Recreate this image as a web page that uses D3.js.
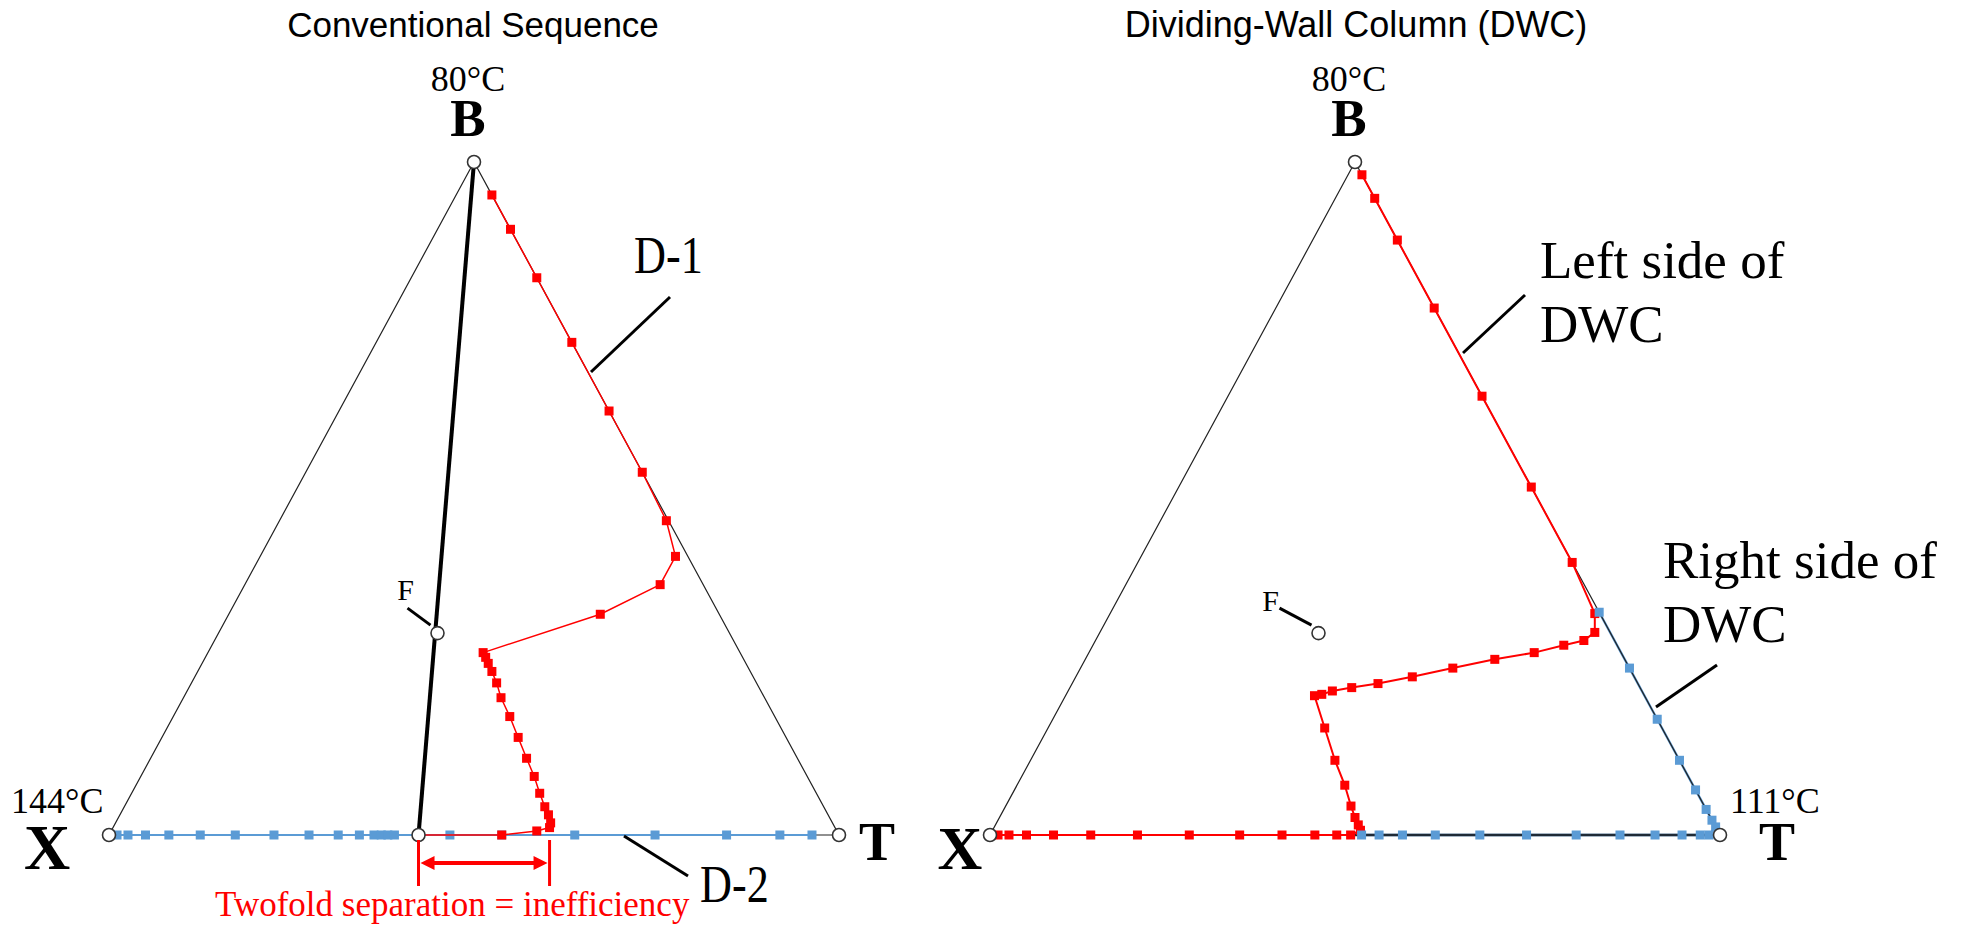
<!DOCTYPE html>
<html>
<head>
<meta charset="utf-8">
<script src="https://cdn.jsdelivr.net/npm/d3@7"></script>
<style>
  html, body { margin: 0; padding: 0; background: #fff; }
  svg { display: block; }
</style>
</head>
<body>
<svg id="chart" width="1973" height="928"></svg>
<script>
// Every composition is a [B, T] mole-fraction pair; X = 1 - B - T.
const boilingPoints = { B: "80°C", X: "144°C", T: "111°C" };
const feed = [0.30, 0.30];
const d1Bottoms = [0.000, 0.424];

// Column D-1 liquid profile, bottoms → top
const d1Profile = [
  [0.000, 0.424], [0.000, 0.538], [0.006, 0.583], [0.011, 0.598], [0.018, 0.596],
  [0.030, 0.587], [0.042, 0.576], [0.062, 0.559], [0.087, 0.539], [0.114, 0.515],
  [0.145, 0.488], [0.176, 0.461], [0.204, 0.435], [0.226, 0.418], [0.243, 0.403],
  [0.255, 0.392], [0.264, 0.384], [0.271, 0.377], [0.328, 0.509], [0.372, 0.569],
  [0.414, 0.569], [0.467, 0.530], [0.539, 0.461], [0.630, 0.370], [0.732, 0.268],
  [0.828, 0.172], [0.900, 0.100], [0.951, 0.049]
];

// Column D-2 profile on the T–X edge
const d2Profile = [
  [0, 0.011], [0, 0.026], [0, 0.050], [0, 0.082], [0, 0.125], [0, 0.173], [0, 0.226],
  [0, 0.274], [0, 0.314], [0, 0.343], [0, 0.363], [0, 0.373], [0, 0.382], [0, 0.391],
  [0, 0.467], [0, 0.538], [0, 0.638], [0, 0.748], [0, 0.846], [0, 0.919], [0, 0.963]
];

// DWC, left side of the wall down through the bottom section, top → bottoms
const dwcLeft = [
  [0.981, 0.019], [0.946, 0.054], [0.884, 0.116], [0.783, 0.217], [0.652, 0.348],
  [0.517, 0.483], [0.405, 0.595], [0.329, 0.664], [0.301, 0.678], [0.289, 0.669],
  [0.282, 0.645], [0.271, 0.610], [0.261, 0.561], [0.248, 0.510], [0.235, 0.461],
  [0.225, 0.419], [0.219, 0.386], [0.214, 0.362], [0.209, 0.350], [0.207, 0.341],
  [0.159, 0.379], [0.111, 0.417], [0.074, 0.449], [0.043, 0.473], [0.026, 0.487],
  [0.015, 0.497], [0.007, 0.504], [0.000, 0.494], [0.000, 0.475], [0.000, 0.445],
  [0.000, 0.400], [0.000, 0.342], [0.000, 0.273], [0.000, 0.202], [0.000, 0.138],
  [0.000, 0.087], [0.000, 0.050], [0.000, 0.026], [0.000, 0.011]
];

// DWC, right side of the wall, wall top → T corner → along the T–X edge
const dwcRight = [
  [0.331, 0.669], [0.248, 0.752], [0.172, 0.828], [0.111, 0.889], [0.067, 0.933],
  [0.038, 0.962], [0.022, 0.978], [0.012, 0.988], [0.000, 0.985], [0.000, 0.973],
  [0.000, 0.948], [0.000, 0.911], [0.000, 0.863], [0.000, 0.803], [0.000, 0.735],
  [0.000, 0.671], [0.000, 0.610], [0.000, 0.565], [0.000, 0.533], [0.000, 0.509]
];
const dwcBottomSegment = [[0.000, 0.500], [0.000, 1.000]];

const twofoldSpan = [d1Bottoms, [0.011, 0.598]];

const RED = "#ff0000";
const BLUE = "#5b9bd5";
const SERIF = "'Liberation Serif', 'Times New Roman', Times, serif";
const SANS = "'Liberation Sans', Arial, Helvetica, sans-serif";
const MARK = 9;

const svg = d3.select("#chart");

function makePanel(x0) {
  const sx = d3.scaleLinear().domain([0, 1]).range([x0, x0 + 730]);
  const sy = d3.scaleLinear().domain([0, 1]).range([835, 162]);
  const proj = d => [sx(d[1] + d[0] / 2), sy(d[0])];
  return { sx, sy, proj, B: proj([1, 0]), X: proj([0, 0]), T: proj([0, 1]) };
}

const line = d3.line();

function triangle(g, p) {
  g.append("path")
    .attr("d", line([p.B, p.X, p.T]) + "Z")
    .attr("fill", "none").attr("stroke", "#222").attr("stroke-width", 1.2);
}

function seriesLine(g, p, data, color, width) {
  g.append("path")
    .attr("d", line(data.map(p.proj)))
    .attr("fill", "none").attr("stroke", color)
    .attr("stroke-width", width).attr("stroke-linejoin", "round");
}

function seriesMarks(g, p, data, color) {
  g.append("g").selectAll("rect").data(data).join("rect")
    .attr("x", d => p.proj(d)[0] - MARK / 2).attr("y", d => p.proj(d)[1] - MARK / 2)
    .attr("width", MARK).attr("height", MARK).attr("fill", color);
}

function node(g, pt) {
  g.append("circle").attr("cx", pt[0]).attr("cy", pt[1]).attr("r", 6.5)
    .attr("fill", "#fff").attr("stroke", "#333").attr("stroke-width", 1.6);
}

// text with optional horizontal squeeze (sx)
function text(g, str, x, y, opts) {
  const t = g.append("text")
    .attr("font-family", opts.family || SERIF)
    .attr("font-size", opts.size)
    .attr("font-weight", opts.weight || "normal")
    .attr("text-anchor", opts.anchor || "start")
    .attr("fill", opts.fill || "#000")
    .text(str);
  if (opts.sx) t.attr("transform", `translate(${x},${y}) scale(${opts.sx},1)`);
  else t.attr("x", x).attr("y", y);
  return t;
}

function leader(g, a, b) {
  g.append("line").attr("x1", a[0]).attr("y1", a[1]).attr("x2", b[0]).attr("y2", b[1])
    .attr("stroke", "#000").attr("stroke-width", 3);
}

function vertexLabels(g, p, cfg) {
  text(g, boilingPoints.B, p.B[0] - 6, 91, { size: 36, anchor: "middle" });
  text(g, "B", p.B[0] - 6, 136, { size: 53, weight: "bold", anchor: "middle" });
  text(g, "X", p.X[0] + cfg.xOff, 869, { size: cfg.xSize, weight: "bold", anchor: "middle" });
  text(g, "T", p.T[0] + cfg.tOff, 860, { size: 54, weight: "bold", anchor: "middle" });
}

function feedLabel(g, p, cfg) {
  const f = p.proj(feed);
  leader(g, [f[0] + cfg.lead[0], f[1] + cfg.lead[1]], [f[0] - 7, f[1] - 8]);
  text(g, "F", f[0] + cfg.label[0], f[1] + cfg.label[1], { size: 30, anchor: "middle" });
}

// ---------- Conventional sequence ----------
const L = makePanel(109);
const gL = svg.append("g");
text(gL, "Conventional Sequence", 473, 37, { family: SANS, size: 35, anchor: "middle" });
triangle(gL, L);
gL.append("path").attr("d", line([L.B, L.proj(d1Bottoms)]))
  .attr("stroke", "#000").attr("stroke-width", 4).attr("fill", "none");
seriesLine(gL, L, d2Profile, BLUE, 2);
seriesMarks(gL, L, d2Profile, BLUE);
seriesLine(gL, L, d1Profile, RED, 1.5);
seriesMarks(gL, L, d1Profile, RED);
[L.B, L.X, L.T, L.proj(feed), L.proj(d1Bottoms)].forEach(pt => node(gL, pt));
vertexLabels(gL, L, { xOff: -62, tOff: 38, xSize: 64 });
text(gL, boilingPoints.X, L.X[0] - 98, 813, { size: 36 });
feedLabel(gL, L, { lead: [-30, -25], label: [-32, -33] });

text(gL, "D-1", 634, 273, { size: 52, sx: 0.85 });
leader(gL, [670, 297], [591, 372]);
text(gL, "D-2", 700, 902, { size: 52, sx: 0.85 });
leader(gL, [624, 836], [688, 876]);

// twofold-separation bracket
const bx0 = L.proj(twofoldSpan[0])[0], bx1 = L.proj(twofoldSpan[1])[0];
[bx0, bx1].forEach(x => gL.append("line")
  .attr("x1", x).attr("x2", x).attr("y1", 840).attr("y2", 886)
  .attr("stroke", RED).attr("stroke-width", 3));
gL.append("line").attr("x1", bx0 + 12).attr("x2", bx1 - 12).attr("y1", 863).attr("y2", 863)
  .attr("stroke", RED).attr("stroke-width", 4);
gL.append("path").attr("fill", RED)
  .attr("d", `M${bx0 + 2},863 L${bx0 + 16},856 L${bx0 + 16},870 Z M${bx1 - 2},863 L${bx1 - 16},856 L${bx1 - 16},870 Z`);
text(gL, "Twofold separation = inefficiency", 215, 916, { size: 35, fill: RED });

// ---------- Dividing-wall column ----------
const R = makePanel(990);
const gR = svg.append("g");
text(gR, "Dividing-Wall Column (DWC)", 1356, 37, { family: SANS, size: 36, anchor: "middle" });
seriesLine(gR, R, dwcRight, BLUE, 2.4);
triangle(gR, R);
seriesLine(gR, R, dwcLeft, RED, 2);
gR.append("path").attr("d", line(dwcBottomSegment.map(R.proj)))
  .attr("stroke", "#1f2a36").attr("stroke-width", 2.6).attr("fill", "none");
seriesMarks(gR, R, dwcLeft, RED);
seriesMarks(gR, R, dwcRight, BLUE);
[R.B, R.X, R.T, R.proj(feed)].forEach(pt => node(gR, pt));
vertexLabels(gR, R, { xOff: -30, tOff: 57, xSize: 62 });
text(gR, boilingPoints.T, R.T[0] + 10, 813, { size: 36 });
feedLabel(gR, R, { lead: [-39, -25], label: [-48, -22] });

text(gR, "Left side of", 1540, 278, { size: 53 });
text(gR, "DWC", 1540, 342, { size: 53 });
leader(gR, [1525, 295], [1463, 353]);
text(gR, "Right side of", 1663, 578, { size: 53 });
text(gR, "DWC", 1663, 642, { size: 53 });
leader(gR, [1717, 665], [1656, 707]);
</script>
</body>
</html>
